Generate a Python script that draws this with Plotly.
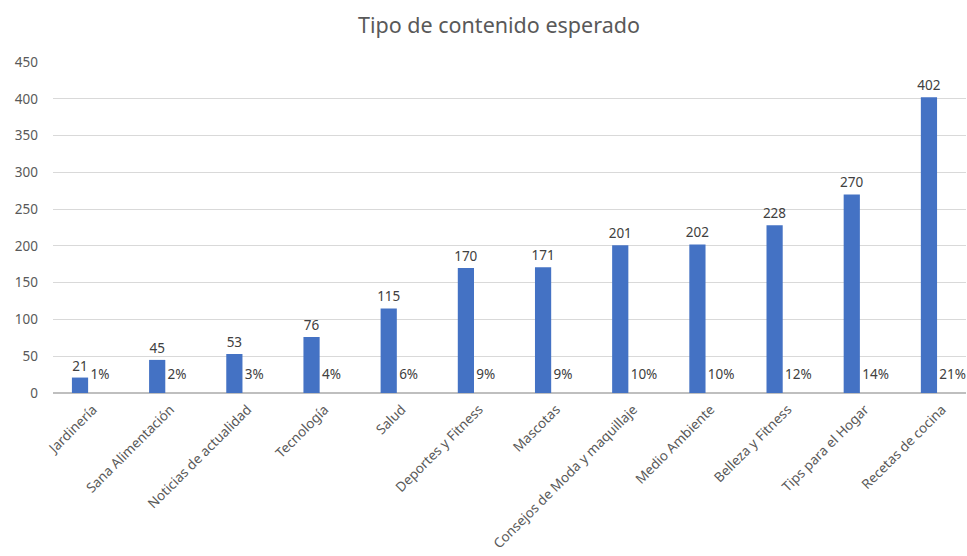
import plotly.graph_objects as go

categories = ["Jardinería", "Sana Alimentación", "Noticias de actualidad", "Tecnología",
              "Salud", "Deportes y Fitness", "Mascotas", "Consejos de Moda y maquillaje",
              "Medio Ambiente", "Belleza y Fitness", "Tips para el Hogar", "Recetas de cocina"]
values = [21, 45, 53, 76, 115, 170, 171, 201, 202, 228, 270, 402]
percents = ["1%", "2%", "3%", "4%", "6%", "9%", "9%", "10%", "10%", "12%", "14%", "21%"]
y_ticks = [0, 50, 100, 150, 200, 250, 300, 350, 400, 450]

idx = list(range(len(categories)))
FONT = "Noto Sans"
GREY = "#595959"

fig = go.Figure()
fig.add_trace(go.Bar(
    x=idx, y=values, width=0.21,
    marker=dict(color="#4472C4", line=dict(width=0)),
    text=[str(v) for v in values], textposition="outside",
    constraintext="none",
    textfont=dict(family=FONT, size=13.5, color="#404040"),
    outsidetextfont=dict(family=FONT, size=13.5, color="#404040"),
    cliponaxis=False, hoverinfo="skip",
))
fig.add_trace(go.Scatter(
    x=[i + 0.135 for i in idx], y=[24] * len(idx), mode="text",
    text=percents, textposition="middle right",
    textfont=dict(family=FONT, size=13.5, color="#404040"),
    hoverinfo="skip", cliponaxis=False,
))

fig.update_layout(
    width=967, height=556,
    margin=dict(l=53, r=1, t=62, b=163),
    paper_bgcolor="white", plot_bgcolor="white",
    showlegend=False,
    title=dict(text="Tipo de contenido esperado", x=0.516, xanchor="center",
               y=0.955, yanchor="middle",
               font=dict(family=FONT, size=21.5, color=GREY)),
    xaxis=dict(range=[-0.35, 11.48], tickvals=[i + 0.17 for i in idx], ticktext=categories,
               tickangle=-45, showgrid=False, zeroline=False, showline=False,
               ticks="", automargin=False, ticklabelstandoff=5,
               tickfont=dict(family=FONT, size=13.5, color=GREY)),
    yaxis=dict(range=[0, 450], tickvals=y_ticks, showgrid=True, gridcolor="#d9d9d9",
               gridwidth=1, zeroline=True, zerolinecolor="#bfbfbf", zerolinewidth=1.5,
               ticks="", automargin=False, ticklabelstandoff=14,
               tickfont=dict(family=FONT, size=13.5, color=GREY)),
)

fig.write_html("out.html")
